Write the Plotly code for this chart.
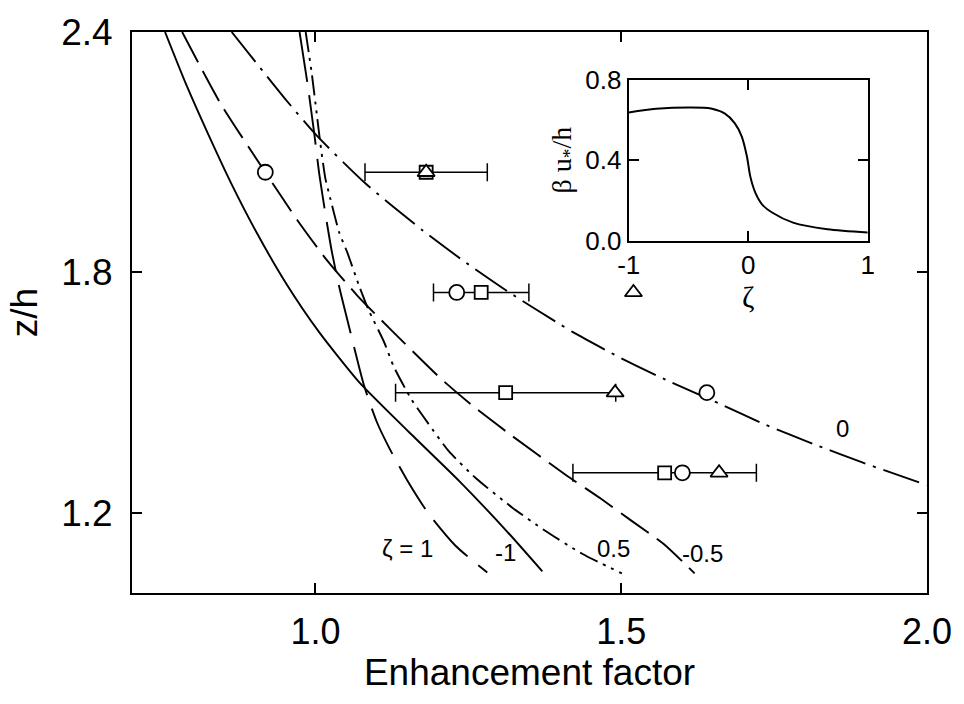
import plotly.graph_objects as go

# ---- main curves (Enhancement factor vs z/h) ----
c_m1_x = [0.754, 0.788, 0.824, 0.862, 0.904, 0.951, 1.006, 1.071, 1.152, 1.236, 1.313, 1.371]
c_m1_y = [2.400, 2.271, 2.147, 2.023, 1.899, 1.775, 1.651, 1.527, 1.403, 1.278, 1.154, 1.054]

c_m05_x = [0.782, 0.845, 0.918, 0.971, 1.019, 1.068, 1.124, 1.205, 1.258, 1.318, 1.410, 1.467, 1.517, 1.569, 1.620]
c_m05_y = [2.400, 2.221, 2.050, 1.929, 1.830, 1.743, 1.656, 1.535, 1.466, 1.396, 1.294, 1.235, 1.180, 1.123, 1.049]

c_0_x = [0.863, 0.950, 1.003, 1.081, 1.176, 1.241, 1.317, 1.394, 1.421, 1.501, 1.580, 1.660, 1.736, 1.814, 1.892, 2.000]
c_0_y = [2.400, 2.234, 2.140, 2.023, 1.904, 1.830, 1.750, 1.676, 1.651, 1.585, 1.527, 1.473, 1.420, 1.372, 1.327, 1.269]

c_05_x = [0.984, 0.994, 1.002, 1.008, 1.016, 1.024, 1.039, 1.052, 1.071, 1.087, 1.112, 1.128, 1.157, 1.184, 1.218, 1.262, 1.322, 1.375, 1.436, 1.501]
c_05_y = [2.400, 2.296, 2.197, 2.122, 2.036, 1.986, 1.899, 1.850, 1.768, 1.706, 1.627, 1.565, 1.483, 1.424, 1.354, 1.287, 1.213, 1.156, 1.098, 1.049]

c_1_x = [0.974, 0.987, 0.998, 1.006, 1.016, 1.027, 1.039, 1.055, 1.079, 1.100, 1.121, 1.149, 1.184, 1.229, 1.281]
c_1_y = [2.400, 2.271, 2.147, 2.048, 1.949, 1.850, 1.763, 1.664, 1.520, 1.428, 1.361, 1.284, 1.200, 1.118, 1.051]

# ---- measured points ----
sq_x = [1.181, 1.271, 1.311, 1.571]
sq_y = [2.05, 1.75, 1.50, 1.30]
sq_err = [0.10, 0.078, 0.18, 0.15]
ci_x = [0.918, 1.231, 1.640, 1.600]
ci_y = [2.05, 1.75, 1.50, 1.30]
tr_x = [1.181, 1.520, 1.490, 1.660]
tr_y = [2.05, 1.75, 1.50, 1.30]

# ---- inset ----
zeta = [-1.0, -0.771, -0.484, -0.312, -0.198, -0.112, -0.054, -0.011, 0.017, 0.06, 0.117, 0.203, 0.375, 0.662, 1.0]
beta = [0.637, 0.655, 0.662, 0.657, 0.632, 0.583, 0.517, 0.418, 0.319, 0.237, 0.179, 0.138, 0.089, 0.056, 0.04]

curve_labels = ["ζ = 1", "-1", "0.5", "-0.5", "0"]
label_x = [1.150, 1.310, 1.487, 1.633, 1.862]
label_y = [1.111, 1.101, 1.110, 1.098, 1.411]

FONT = "Liberation Sans, Arial, sans-serif"
SERIF = "Liberation Serif, Times New Roman, serif"

fig = go.Figure()

def curve(x, y, dash):
    fig.add_trace(go.Scatter(x=x, y=y, mode="lines",
                             line=dict(color="black", width=1.9, dash=dash, shape="spline", smoothing=0.6),
                             showlegend=False, hoverinfo="skip"))

curve(c_m1_x, c_m1_y, "solid")
curve(c_m05_x, c_m05_y, "34px,10px")
curve(c_0_x, c_0_y, "38px,8px,3px,8px")
curve(c_05_x, c_05_y, "20px,6px,3px,6px,3px,6px")
curve(c_1_x, c_1_y, "50px,14px")

fig.add_trace(go.Scatter(x=sq_x, y=sq_y, mode="markers",
                         marker=dict(symbol="square", size=13, color="white", line=dict(color="black", width=1.8)),
                         error_x=dict(type="data", array=sq_err, visible=True, color="black", thickness=1.5, width=9),
                         showlegend=False))
fig.add_trace(go.Scatter(x=ci_x, y=ci_y, mode="markers",
                         marker=dict(symbol="circle", size=15, color="white", line=dict(color="black", width=1.8)),
                         showlegend=False))
fig.add_trace(go.Scatter(x=tr_x, y=tr_y, mode="markers",
                         marker=dict(symbol="triangle-up", size=15, color="white", line=dict(color="black", width=1.8)),
                         showlegend=False))

fig.add_trace(go.Scatter(x=zeta, y=beta, mode="lines", xaxis="x2", yaxis="y2",
                         line=dict(color="black", width=2, shape="spline", smoothing=0.8), showlegend=False))

for t, x, y in zip(curve_labels, label_x, label_y):
    fig.add_annotation(x=x, y=y, text=t, showarrow=False, font=dict(family=FONT, size=24, color="black"))

axis_common = dict(showgrid=False, zeroline=False, showline=True, linecolor="black", linewidth=2,
                   ticks="inside", ticklen=10, tickwidth=1.5, tickcolor="black", mirror="allticks")

fig.update_layout(
    width=964, height=704,
    margin=dict(l=132, r=27, t=28, b=111),
    paper_bgcolor="white", plot_bgcolor="white",
    xaxis=dict(range=[0.7, 2.0], tickvals=[1.0, 1.5, 2.0], ticktext=["1.0", "1.5", "2.0"],
               tickfont=dict(family=FONT, size=36, color="black"), ticklabelstandoff=6,
               title=dict(text="Enhancement factor", font=dict(family=FONT, size=37, color="black"), standoff=6),
               **axis_common),
    yaxis=dict(range=[1.0, 2.4], tickvals=[1.2, 1.8, 2.4], ticktext=["1.2", "1.8", "2.4"],
               tickfont=dict(family=FONT, size=37, color="black"), ticklabelstandoff=10,
               title=dict(text="z/h", font=dict(family=FONT, size=37, color="black"), standoff=12),
               **axis_common),
    xaxis2=dict(domain=[0.6248, 0.9255], anchor="y2", range=[-1, 1], tickvals=[-1, 0, 1], ticktext=["-1", "0", "1"],
                tickfont=dict(family=FONT, size=26, color="black"),
                title=dict(text="ζ", font=dict(family=SERIF, size=30, color="black"), standoff=2),
                **axis_common),
    yaxis2=dict(domain=[0.6283, 0.9150], anchor="x2", range=[0, 0.8], tickvals=[0, 0.4, 0.8], ticktext=["0.0", "0.4", "0.8"],
                tickfont=dict(family=FONT, size=26, color="black"),
                title=dict(text="β u<sub>*</sub>/h", font=dict(family=SERIF, size=28, color="black"), standoff=6),
                **axis_common),
)

fig.write_html("out.html")
